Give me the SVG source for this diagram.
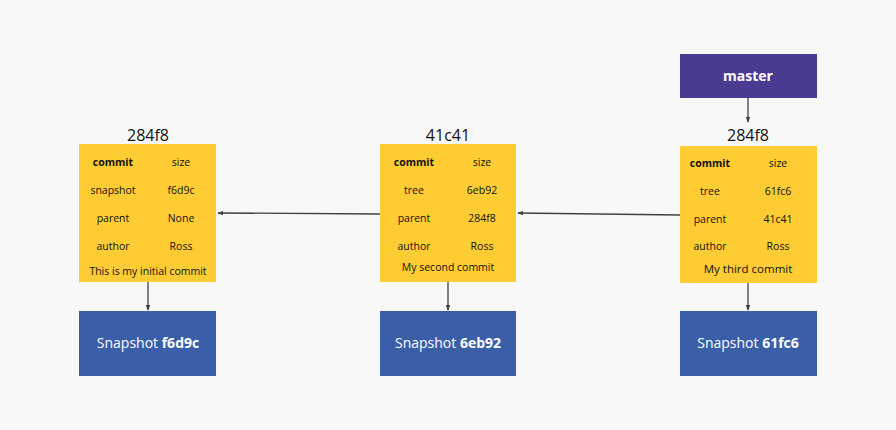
<svg xmlns="http://www.w3.org/2000/svg" width="896" height="430" viewBox="0 0 896 430">
<defs>
<style>
text{font-family:"Open Sans","Liberation Sans",sans-serif;fill:#111;text-anchor:middle}
.y{fill:#FFCD33}
.b{fill:#3A5EA8}
.m{fill:#4B3A91}
.t{font-size:16px}
.s{font-size:10.5px}
.st{font-size:11.5px}
.bold{font-weight:bold}
.w{fill:#fff;font-size:14px}
.c{stroke:#404040;stroke-width:1.3;fill:none;marker-end:url(#a)}
</style>
<marker id="a" viewBox="0 0 8 8" refX="7" refY="4" markerWidth="6" markerHeight="6" orient="auto-start-reverse" markerUnits="userSpaceOnUse"><path d="M0,1 L8,4 L0,7 z" fill="#404040"/></marker>
</defs>
<rect width="896" height="430" fill="#F8F8F8"/>
<g id="connectors">
<line class="c" x1="380" y1="214" x2="218" y2="213"/>
<line class="c" x1="680" y1="215" x2="518" y2="213"/>
<line class="c" x1="148" y1="282" x2="148" y2="310"/>
<line class="c" x1="448" y1="282" x2="448" y2="310"/>
<line class="c" x1="748" y1="283" x2="748" y2="310"/>
<line class="c" x1="748" y1="98" x2="748" y2="122"/>
</g>
<g id="commit1">
<text class="t" x="148" y="141">284f8</text>
<rect class="y" x="79" y="144" width="137" height="138"/>
<text class="s bold" x="113" y="166">commit</text><text class="s" x="181" y="166">size</text>
<text class="s" x="113" y="194">snapshot</text><text class="s" x="181" y="194">f6d9c</text>
<text class="s" x="113" y="222">parent</text><text class="s" x="181" y="222">None</text>
<text class="s" x="113" y="250">author</text><text class="s" x="181" y="250">Ross</text>
<text class="s" x="148" y="275">This is my initial commit</text>
</g>
<g id="commit2">
<text class="t" x="448" y="141">41c41</text>
<rect class="y" x="380" y="144" width="136" height="138"/>
<text class="s bold" x="414" y="166">commit</text><text class="s" x="482" y="166">size</text>
<text class="s" x="414" y="194">tree</text><text class="s" x="482" y="194">6eb92</text>
<text class="s" x="414" y="222">parent</text><text class="s" x="482" y="222">284f8</text>
<text class="s" x="414" y="250">author</text><text class="s" x="482" y="250">Ross</text>
<text class="s" x="448" y="271">My second commit</text>
</g>
<g id="commit3">
<text class="t" x="748" y="141">284f8</text>
<rect class="y" x="680" y="146" width="137" height="137"/>
<text class="s bold" x="710" y="167">commit</text><text class="s" x="778" y="167">size</text>
<text class="s" x="710" y="195">tree</text><text class="s" x="778" y="195">61fc6</text>
<text class="s" x="710" y="223">parent</text><text class="s" x="778" y="223">41c41</text>
<text class="s" x="710" y="250">author</text><text class="s" x="778" y="250">Ross</text>
<text class="st" x="748" y="273">My third commit</text>
</g>
<g id="master">
<rect class="m" x="680" y="54" width="137" height="44"/>
<text class="w bold" x="748" y="81">master</text>
</g>
<g id="snap1">
<rect class="b" x="79" y="311" width="137" height="65"/>
<text class="w" x="148" y="348">Snapshot <tspan class="bold">f6d9c</tspan></text>
</g>
<g id="snap2">
<rect class="b" x="380" y="311" width="136" height="65"/>
<text class="w" x="448" y="348">Snapshot <tspan class="bold">6eb92</tspan></text>
</g>
<g id="snap3">
<rect class="b" x="680" y="311" width="137" height="65"/>
<text class="w" x="748" y="348">Snapshot <tspan class="bold">61fc6</tspan></text>
</g>
</svg>
